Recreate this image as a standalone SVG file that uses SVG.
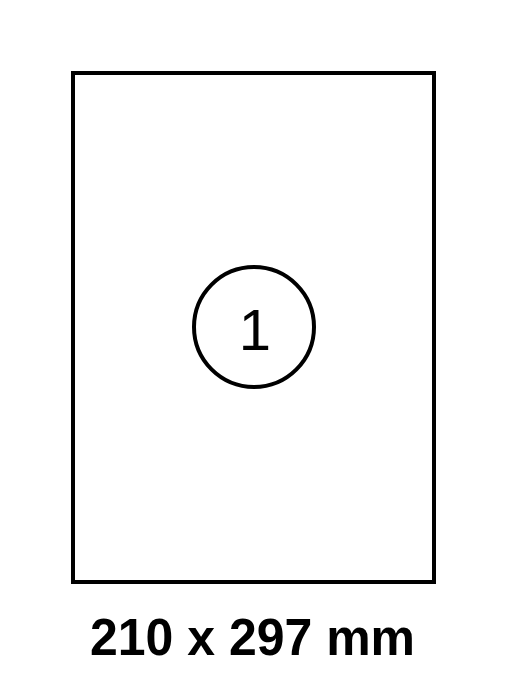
<svg xmlns="http://www.w3.org/2000/svg" width="508" height="680" viewBox="0 0 508 680">
<style>
.line{fill:none;stroke:#000;stroke-width:4}
.t{font-family:"Liberation Sans",Arial,sans-serif;fill:#000}
</style>
<rect width="508" height="680" fill="#fff"/>
<g id="sheet"><rect class="line" x="73" y="73" width="361" height="509"/></g>
<g id="label1">
<circle cx="254" cy="327" r="60" class="line" stroke-width="3.5"/>
<text class="t" x="255" y="350" font-size="58" text-anchor="middle">1</text>
</g>
<g id="connectors"/>
<text id="size" class="t" x="252.5" y="655" font-size="52" font-weight="bold" text-anchor="middle" textLength="325" lengthAdjust="spacingAndGlyphs">210 x 297 mm</text>
</svg>
